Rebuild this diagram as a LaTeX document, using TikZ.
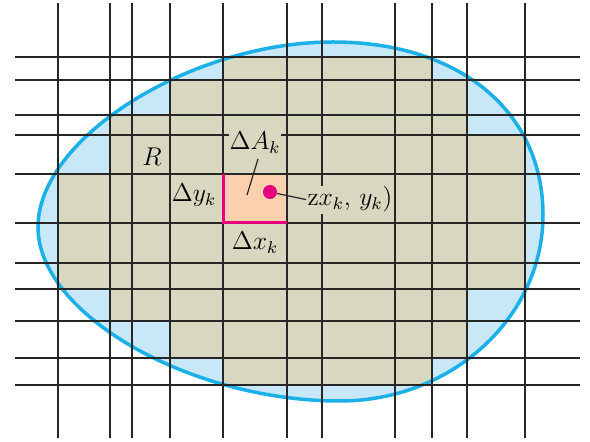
\documentclass[tikz,border=0pt]{standalone}
\definecolor{tanc}{HTML}{D8D7BF}
\definecolor{bluef}{HTML}{C8E8F7}
\definecolor{bluel}{HTML}{1BB0E8}
\definecolor{pinkc}{HTML}{E6007E}
\definecolor{peach}{HTML}{FBD0AE}
\tikzset{
  gridline/.style={line width=0.8pt, black!85},
  blobline/.style={line width=1.75pt, bluel},
  pinkline/.style={line width=1.5pt, pinkc},
  lab/.style={font=\fontsize{12}{14}\selectfont, inner sep=0.5pt, anchor=base, scale=1.07, transform shape},
  leader/.style={line width=0.6pt, black!85},
}
\def\blobpath{(333,42) .. controls (459,42) and (543,111) .. (543,215) .. controls (543,317) and (452,401) .. (340,401) .. controls (189,401) and (38,314) .. (38,227) .. controls (38,138) and (191,42) .. (333,42) -- cycle}
\begin{document}
\begin{tikzpicture}[x=0.5pt,y=-0.5pt]
\useasboundingbox (0,0) rectangle (590,442);
% blob fill
\fill[bluef] \blobpath;
% tan cells
\fill[tanc] (223,57) rectangle (432,80);
\fill[tanc] (170,80) rectangle (467,115);
\fill[tanc] (110,115) rectangle (467,135);
\fill[tanc] (110,135) rectangle (525,174);
\fill[tanc] (58,174) rectangle (525,289);
\fill[tanc] (110,289) rectangle (467,321);
\fill[tanc] (170,321) rectangle (467,358);
\fill[tanc] (223,358) rectangle (432,385);
\fill[peach] (223,174) rectangle (287,223);
% blob outline
\draw[blobline] \blobpath;
% grid
\foreach \y in {57,80,115,135,174,223,263,289,321,358,385}
  \draw[gridline] (15,\y) -- (580,\y);
\foreach \x in {58,110,132,170,223,287,322,395,432,467,525}
  \draw[gridline] (\x,3) -- (\x,438);
% pink edges
\draw[pinkline] (223,174) -- (223,223) -- (287,223);
% labels
\node[lab] (R) at (152,166) {$R$};
\node[lab, fill=tanc, inner ysep=1.5pt] (dA) at (255,150) {$\Delta A_k$};
\node[lab] (dy) at (194,202) {$\Delta y_k$};
\node[lab] (dx) at (255,250) {$\Delta x_k$};
\node[lab, anchor=base west, fill=tanc] (lbl) at (306,206) {z$x_k$, $y_k$)};
\node[circle, fill=pinkc, minimum size=7pt, inner sep=0pt] (pt) at (270,192) {};
\coordinate (la1) at (258,159);
\coordinate (la2) at (247,195);
\draw[leader] (la1) -- (la2);
\draw[leader] (pt) -- (lbl.west);
\end{tikzpicture}
\end{document}
